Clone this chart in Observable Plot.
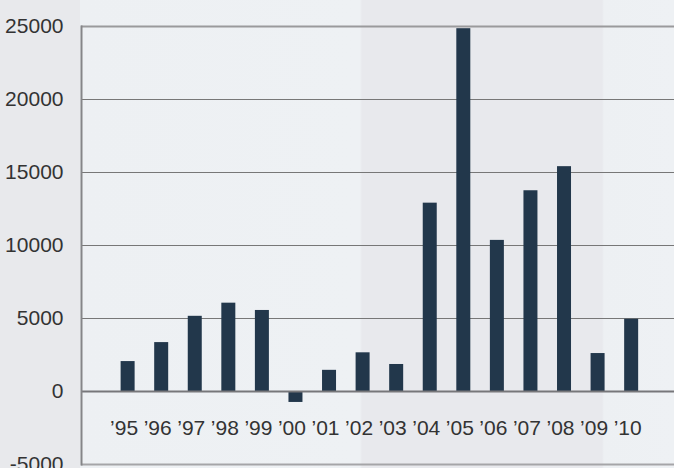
<!DOCTYPE html>
<html>
<head>
<meta charset="utf-8">
<script src="https://cdn.jsdelivr.net/npm/d3@7"></script>
<script src="https://cdn.jsdelivr.net/npm/@observablehq/plot@0.6"></script>
<style>
  html, body { margin: 0; padding: 0; }
  #chart {
    width: 674px; height: 468px; overflow: hidden;
    background: linear-gradient(90deg, #e8e9ec 0px, #e8e9ec 80px, #edf0f3 80px, #eef1f4 360px, #e8e9ed 362px, #e8e9ed 602px, #edf0f3 604px, #eef1f4 674px);
  }
</style>
</head>
<body>
<div id="chart"></div>
<script>
const years = ["’95","’96","’97","’98","’99","’00","’01","’02","’03","’04","’05","’06","’07","’08","’09","’10"];
const values = [2050, 3350, 5150, 6050, 5550, -750, 1450, 2650, 1850, 12900, 24850, 10350, 13750, 15400, 2600, 4950];
const yTicks = [-5000, 0, 5000, 10000, 15000, 20000, 25000];
const innerGrid = [5000, 10000, 15000, 20000];

const data = years.map((y, i) => ({year: y, value: values[i]}));

const chart = Plot.plot({
  width: 674,
  height: 468,
  marginLeft: 81,
  marginRight: 0,
  marginTop: 26,
  marginBottom: 4,
  style: {background: "transparent", fontFamily: "'Liberation Sans', Arial, sans-serif", fontSize: "21px", color: "#333"},
  x: {domain: years, paddingInner: 0.583, paddingOuter: 1.124, align: 0.525, round: false, axis: null, label: null},
  y: {domain: [-5000, 25000], axis: null, label: null},
  marks: [
    Plot.ruleY(innerGrid, {stroke: "#777", strokeWidth: 1.2}),
    Plot.ruleY([25000], {stroke: "#9a9a9c", strokeWidth: 2}),
    Plot.ruleY([-5000], {stroke: "#a5a5a8", strokeWidth: 2}),
    Plot.barY(data, {x: "year", y: "value", fill: "#22374b"}),
    Plot.ruleY([0], {stroke: "#77777a", strokeWidth: 2}),
    Plot.frame({anchor: "left", stroke: "#858588", strokeWidth: 2}),
    Plot.axisY(yTicks, {tickSize: 0, tickPadding: 18, fill: "#333", fontSize: 21, label: null, tickFormat: d => String(d)}),
    Plot.axisX({anchor: "bottom", tickSize: 0, tickPadding: 0, lineAnchor: "middle", dy: -36, dx: -4, fill: "#333", fontSize: 21, label: null})
  ]
});
document.getElementById("chart").appendChild(chart);
</script>
</body>
</html>
